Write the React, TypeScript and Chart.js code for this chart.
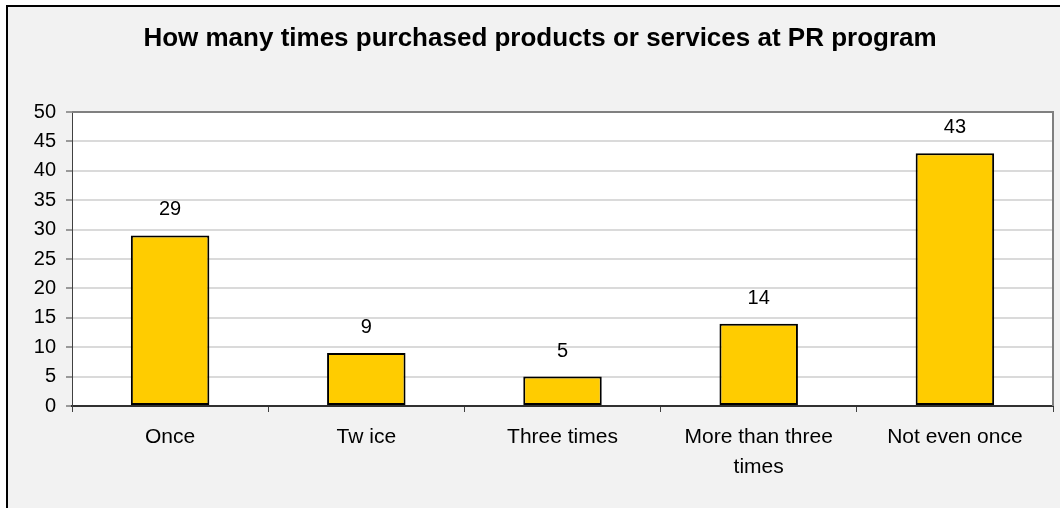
import React, { useEffect, useRef } from "react";
import { Chart, registerables } from "chart.js";

Chart.register(...registerables);

const TITLE = "How many times purchased products or services at PR program";
const categories: (string | string[])[] = [
  "Once",
  "Tw ice",
  "Three times",
  ["More than three", "times"],
  "Not even once",
];
const counts = [29, 9, 5, 14, 43];
const yTicks = [0, 5, 10, 15, 20, 25, 30, 35, 40, 45, 50];

const FONT = "'Liberation Sans', Arial, sans-serif";

export default function App() {
  const ref = useRef<HTMLCanvasElement | null>(null);

  useEffect(() => {
    if (!ref.current) return;
    document.body.style.margin = "0";

    const bgPlugin = {
      id: "bg",
      beforeDraw(chart: any) {
        const { ctx, width, height, chartArea } = chart;
        ctx.save();
        ctx.fillStyle = "#ffffff";
        ctx.fillRect(0, 0, width, height);
        ctx.fillStyle = "#F2F2F2";
        ctx.fillRect(7, 6, width - 7, height - 6);
        ctx.strokeStyle = "#000000";
        ctx.lineWidth = 2;
        ctx.beginPath();
        ctx.moveTo(7, height);
        ctx.lineTo(7, 6);
        ctx.lineTo(width, 6);
        ctx.stroke();
        ctx.fillStyle = "#ffffff";
        ctx.fillRect(
          chartArea.left,
          chartArea.top,
          chartArea.right - chartArea.left,
          chartArea.bottom - chartArea.top
        );
        // title
        ctx.fillStyle = "#000000";
        ctx.font = `bold 26px ${FONT}`;
        ctx.textAlign = "center";
        ctx.textBaseline = "alphabetic";
        ctx.fillText(TITLE, 540, 46);
        ctx.restore();
      },
    };

    const borderPlugin = {
      id: "plotBorder",
      afterDraw(chart: any) {
        const { ctx, chartArea } = chart;
        ctx.save();
        ctx.strokeStyle = "#808080";
        ctx.lineWidth = 2;
        ctx.beginPath();
        ctx.moveTo(chartArea.left, chartArea.top);
        ctx.lineTo(chartArea.right, chartArea.top);
        ctx.lineTo(chartArea.right, chartArea.bottom);
        ctx.stroke();
        ctx.restore();
      },
    };

    const labelPlugin = {
      id: "valueLabels",
      afterDatasetsDraw(chart: any) {
        const { ctx } = chart;
        const meta = chart.getDatasetMeta(0);
        ctx.save();
        ctx.fillStyle = "#000000";
        ctx.font = `20px ${FONT}`;
        ctx.textAlign = "center";
        ctx.textBaseline = "alphabetic";
        meta.data.forEach((bar: any, i: number) => {
          ctx.fillText(String(counts[i]), bar.x, bar.y - 20);
        });
        ctx.restore();
      },
    };

    const chart = new Chart(ref.current, {
      type: "bar",
      data: {
        labels: categories,
        datasets: [
          {
            data: counts,
            backgroundColor: "#FFCC00",
            borderColor: "#000000",
            borderWidth: 2,
            borderSkipped: false,
            barPercentage: 0.4,
            categoryPercentage: 1,
          },
        ],
      },
      options: {
        responsive: false,
        animation: false,
        layout: { padding: { top: 112, right: 7, bottom: 0, left: 0 } },
        plugins: {
          legend: { display: false },
          title: { display: false },
          tooltip: { enabled: false },
        },
        scales: {
          x: {
            offset: true,
            grid: {
              offset: true,
              drawOnChartArea: false,
              drawTicks: true,
              tickLength: 6,
              tickColor: "#404040",
              tickWidth: 1,
            },
            border: { display: true, color: "#303030", width: 2 },
            ticks: {
              color: "#000000",
              font: { family: FONT, size: 21, lineHeight: 1.43 },
              padding: 10,
              maxRotation: 0,
              autoSkip: false,
            },
            afterFit(scale: any) {
              scale.height = 102;
            },
          },
          y: {
            min: 0,
            max: 50,
            afterBuildTicks(scale: any) {
              scale.ticks = yTicks.map((v) => ({ value: v }));
            },
            grid: {
              color: "#DADADA",
              lineWidth: 2,
              tickLength: 6,
              tickColor: "#404040",
              tickWidth: 1,
            },
            border: { display: true, color: "#404040", width: 1 },
            ticks: {
              color: "#000000",
              font: { family: FONT, size: 20 },
              padding: 10,
            },
            afterFit(scale: any) {
              scale.width = 72;
            },
          },
        },
      },
      plugins: [bgPlugin, labelPlugin, borderPlugin],
    } as any);

    return () => chart.destroy();
  }, []);

  return (
    <div style={{ position: "absolute", left: 0, top: 0, width: 1060, height: 508 }}>
      <canvas ref={ref} width={1060} height={508} style={{ display: "block" }} />
    </div>
  );
}
